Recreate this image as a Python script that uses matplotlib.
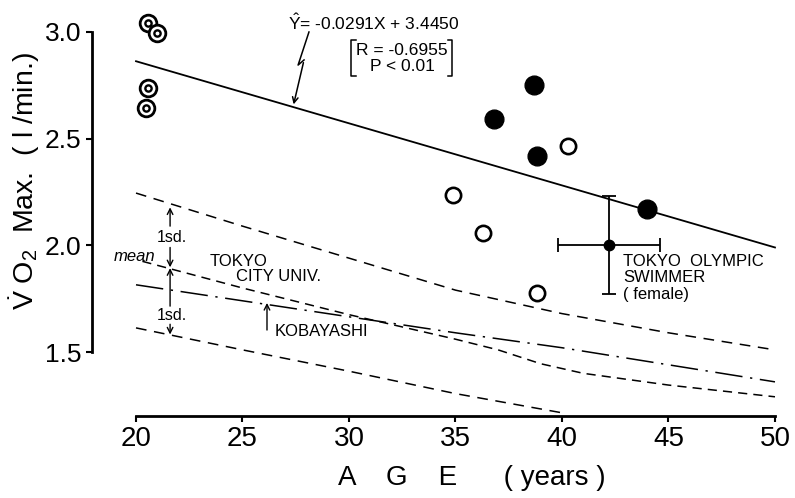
import matplotlib
matplotlib.use("Agg")
import matplotlib.pyplot as plt
import numpy as np

# font: Arial-like sans, fall back on DejaVu
plt.rcParams['font.family'] = ['Liberation Sans', 'DejaVu Sans']
plt.rcParams['mathtext.fontset'] = 'custom'
plt.rcParams['mathtext.rm'] = 'Liberation Sans'
plt.rcParams['mathtext.it'] = 'Liberation Sans:italic'

# ---- data ----
# double-circle subjects (age ~20)
dbl_age = [20.56, 20.98, 20.56, 20.45]
dbl_vo2 = [3.042, 2.995, 2.737, 2.644]

# filled circles
fill_age = [38.69, 36.81, 38.83, 43.99]
fill_vo2 = [2.752, 2.592, 2.419, 2.170]

# open circles
open_age = [34.88, 36.29, 38.83, 40.28]
open_vo2 = [2.236, 2.058, 1.776, 2.466]

# Tokyo Olympic swimmer (female): mean +- sd
swim_age, swim_age_sd = 42.2, 2.4
swim_vo2, swim_vo2_sd = 2.0, 0.23

# regression line as printed on the chart
reg_slope, reg_icpt = -0.0291, 3.4450
reg_age = np.array([20, 50])

# Tokyo City Univ. mean and +-1 sd curves, Kobayashi curve
tcu_age = [20, 25, 30, 35, 40, 45, 50]
tcu_upper = [2.245, 2.09, 1.94, 1.79, 1.68, 1.59, 1.51]
mean_age = [20.3, 25, 30, 35, 37, 39, 41, 45, 50]
tcu_mean = [1.925, 1.80, 1.675, 1.56, 1.51, 1.445, 1.40, 1.345, 1.29]
low_age = [20, 25, 30, 35, 40]
tcu_lower = [1.613, 1.51, 1.41, 1.305, 1.215]
kob_age = [20, 25, 30, 35, 40, 45, 50]
kob_vo2 = [1.815, 1.74, 1.665, 1.59, 1.52, 1.44, 1.36]

xticks = [20, 25, 30, 35, 40, 45, 50]
yticks = [1.5, 2.0, 2.5, 3.0]

fig = plt.figure(figsize=(7.95, 4.98), dpi=100)
ax = fig.add_axes([92 / 795, 82 / 498, 703 / 795, 416 / 498])
ax.set_xlim(17.934, 50.94)
ax.set_ylim(1.2, 3.15)

# axes look
for s in ['top', 'right']:
    ax.spines[s].set_visible(False)
ax.spines['left'].set_bounds(1.5, 3.0)
ax.spines['bottom'].set_bounds(20, 50)
ax.spines['left'].set_linewidth(2)
ax.spines['bottom'].set_linewidth(2)
ax.set_xticks(xticks)
ax.set_yticks(yticks)
ax.set_yticklabels([f'{v:.1f}' for v in yticks])
ax.tick_params(axis='x', direction='out', length=4, width=1.5, labelsize=20, pad=3)
ax.tick_params(axis='y', direction='out', length=4.5, width=1.5, labelsize=19, pad=3)

# curves
ax.plot(reg_age, reg_slope * reg_age + reg_icpt, color='k', lw=1.3)
ax.plot(tcu_age, tcu_upper, color='k', lw=1.1, dashes=(7, 5))
ax.plot(mean_age, tcu_mean, color='k', lw=1.1, dashes=(6, 4))
ax.plot(low_age, tcu_lower, color='k', lw=1.1, dashes=(7, 5))
ax.plot(kob_age, kob_vo2, color='k', lw=1.1, dashes=(18, 5, 1.5, 5))

# points
ax.plot(dbl_age, dbl_vo2, 'o', ms=12, mfc='white', mec='k', mew=2)
ax.plot(dbl_age, dbl_vo2, 'o', ms=4.5, mfc='white', mec='k', mew=1.7)
ax.plot(fill_age, fill_vo2, 'o', ms=13.5, color='k')
ax.plot(open_age, open_vo2, 'o', ms=11, mfc='white', mec='k', mew=1.9)
ax.errorbar(swim_age, swim_vo2, xerr=swim_age_sd, yerr=swim_vo2_sd, fmt='o',
            ms=7.5, color='k', capsize=5, elinewidth=1.3, capthick=1.3)

# regression text, bracketed R / P and lightning arrow
ax.text(27.14, 3.042, r'$\hat{\rm Y}$= -0.0291X + 3.4450', fontsize=12.5,
        ha='left', va='center')
ax.text(32.5, 2.914, 'R = -0.6955', fontsize=12.5, ha='center', va='center')
ax.text(32.5, 2.838, 'P < 0.01', fontsize=12.5, ha='center', va='center')
for bx, sgn in [(30.1, 1), (34.85, -1)]:
    ax.plot([bx + sgn * 0.22, bx, bx, bx + sgn * 0.22],
            [2.962, 2.962, 2.795, 2.795], color='k', lw=1.1)
ax.plot([28.12, 27.61, 27.89], [3.0, 2.845, 2.869], color='k', lw=1.1)
ax.annotate('', xy=(27.37, 2.648), xytext=(27.89, 2.869),
            arrowprops=dict(arrowstyle='->', color='k', lw=1.1))

# Tokyo City Univ. labels
ax.text(23.47, 1.922, 'TOKYO', fontsize=12, ha='left', va='center')
ax.text(24.69, 1.856, 'CITY UNIV.', fontsize=12, ha='left', va='center')
ax.text(18.95, 1.947, 'mean', fontsize=12, style='italic', ha='left', va='center')
ax.text(21.69, 2.039, '1sd.', fontsize=11.5, ha='center', va='center')
ax.text(21.69, 1.669, '1sd.', fontsize=11.5, ha='center', va='center')
arr = dict(arrowstyle='->', color='k', lw=1.0, shrinkA=0, shrinkB=0)
ax.annotate('', xy=(21.6, 2.178), xytext=(21.6, 2.09), arrowprops=arr)
ax.annotate('', xy=(21.6, 1.897), xytext=(21.6, 1.99), arrowprops=arr)
ax.annotate('', xy=(21.6, 1.893), xytext=(21.6, 1.715), arrowprops=arr)
ax.annotate('', xy=(21.6, 1.582), xytext=(21.6, 1.63), arrowprops=arr)

ax.text(26.53, 1.598, 'KOBAYASHI', fontsize=12, ha='left', va='center')
ax.annotate('', xy=(26.15, 1.73), xytext=(26.15, 1.603), arrowprops=arr)

ax.text(42.86, 1.96, 'TOKYO  OLYMPIC\nSWIMMER\n( female)', fontsize=12,
        ha='left', va='top', linespacing=1.12)

# axis titles
ax.text((472 - 92) / 703, (416 - 478) / 416, 'A    G    E      ( years )',
        transform=ax.transAxes, fontsize=20, ha='center', va='center')
ax.text((25 - 92) / 703, (416 - 181) / 416, r'$\dot{\rm V}$ O$_2$  Max.  ( l /min.)',
        transform=ax.transAxes, fontsize=20.5, ha='center', va='center', rotation=90)

fig.savefig('out.png', dpi=100)
